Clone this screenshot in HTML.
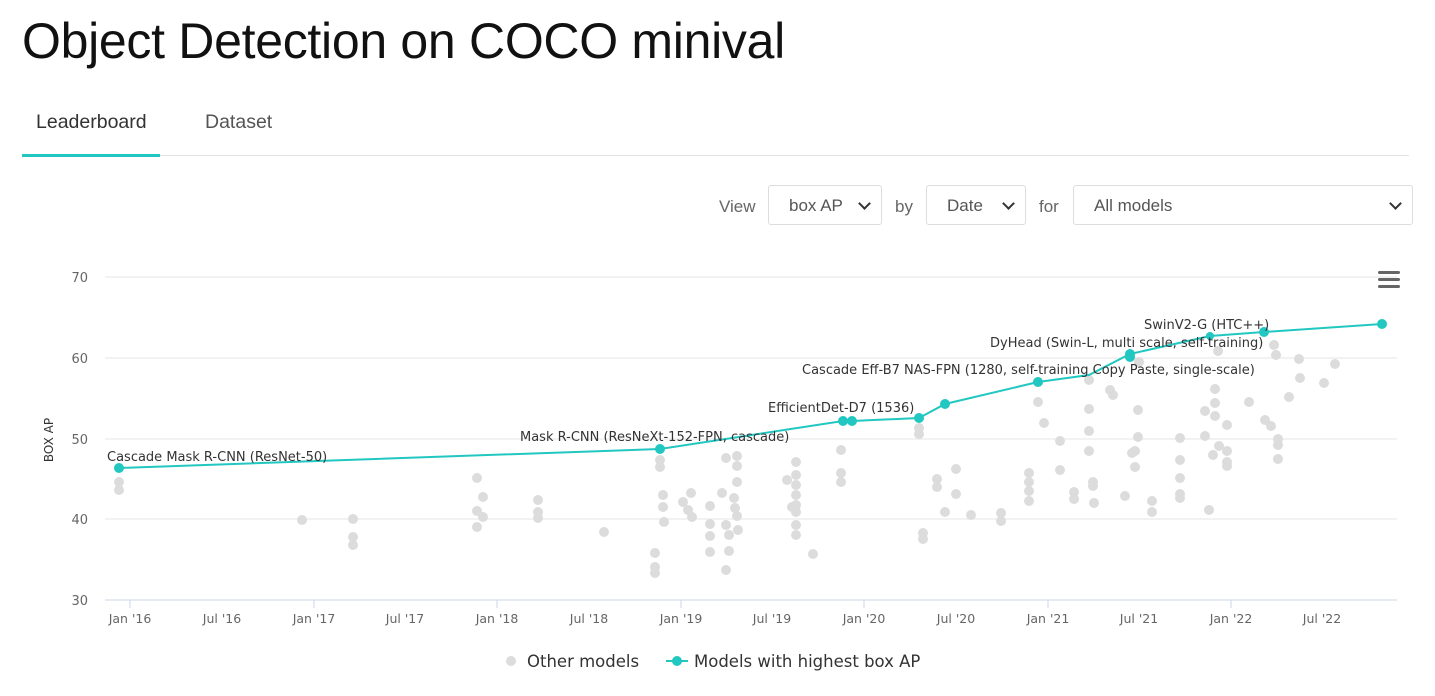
<!DOCTYPE html>
<html><head><meta charset="utf-8"><style>
body{margin:0;width:1435px;height:696px;background:#fff;font-family:"Liberation Sans",sans-serif;overflow:hidden;position:relative}
h1{position:absolute;left:22px;top:12px;margin:0;font-weight:400;font-size:50px;color:#111;letter-spacing:-0.3px}
.tab{position:absolute;top:111px;font-size:19.5px;color:#333}
.sel{position:absolute;top:185px;height:40px;border:1px solid #ddd;border-radius:3px;box-sizing:border-box;font-size:17px;color:#555;padding:10px 0 0 20px}
.sel:after{content:"";position:absolute;right:12px;top:13px;width:7px;height:7px;border-right:2px solid #333;border-bottom:2px solid #333;transform:rotate(45deg)}
.lbl{position:absolute;top:197px;font-size:17px;color:#666}
</style></head><body>
<h1>Object Detection on COCO minival</h1>
<div class="tab" style="left:36px">Leaderboard</div>
<div class="tab" style="left:205px;color:#555">Dataset</div>
<div style="position:absolute;left:22px;top:155px;width:1387px;height:1px;background:#e3e3e3"></div>
<div style="position:absolute;left:22px;top:154px;width:138px;height:3px;background:#21c7c0"></div>
<div class="lbl" style="left:719px">View</div>
<div class="sel" style="left:768px;width:114px">box AP</div>
<div class="lbl" style="left:895px">by</div>
<div class="sel" style="left:926px;width:100px">Date</div>
<div class="lbl" style="left:1039px">for</div>
<div class="sel" style="left:1073px;width:340px">All models</div>
<svg width="1435" height="696" style="position:absolute;left:0;top:0" font-family="DejaVu Sans, sans-serif">
<g stroke="#e6e6e6" stroke-width="1">
<line x1="105" x2="1397" y1="277" y2="277"/><line x1="105" x2="1397" y1="358" y2="358"/><line x1="105" x2="1397" y1="439" y2="439"/><line x1="105" x2="1397" y1="519" y2="519"/>
</g>
<line x1="105" x2="1397" y1="600" y2="600" stroke="#ccd6eb"/>
<g fill="#666" font-size="13" text-anchor="end"><text x="88" y="282">70</text><text x="88" y="363">60</text><text x="88" y="444">50</text><text x="88" y="524">40</text><text x="88" y="605">30</text></g>
<text transform="translate(53,440) rotate(-90)" font-size="12" fill="#333" text-anchor="middle">BOX AP</text>
<g fill="#666" font-size="12.5" text-anchor="middle">
<text x="130" y="623">Jan '16</text><text x="222" y="623">Jul '16</text><text x="314" y="623">Jan '17</text><text x="405" y="623">Jul '17</text><text x="497" y="623">Jan '18</text><text x="589" y="623">Jul '18</text><text x="681" y="623">Jan '19</text><text x="772" y="623">Jul '19</text><text x="864" y="623">Jan '20</text><text x="956" y="623">Jul '20</text><text x="1048" y="623">Jan '21</text><text x="1139" y="623">Jul '21</text><text x="1231" y="623">Jan '22</text><text x="1322" y="623">Jul '22</text>
</g>
<g stroke="#ccd6eb"><line x1="130" x2="130" y1="600" y2="608"/><line x1="314" x2="314" y1="600" y2="608"/><line x1="497" x2="497" y1="600" y2="608"/><line x1="681" x2="681" y1="600" y2="608"/><line x1="864" x2="864" y1="600" y2="608"/><line x1="1048" x2="1048" y1="600" y2="608"/><line x1="1231" x2="1231" y1="600" y2="608"/></g>
<g fill="#666"><rect x="1378" y="271" width="22" height="3" rx="1.5"/><rect x="1378" y="278" width="22" height="3" rx="1.5"/><rect x="1378" y="285" width="22" height="3" rx="1.5"/></g>
<g fill="#dcdcdc">
<circle cx="119" cy="482" r="5"/><circle cx="119" cy="490" r="5"/><circle cx="302" cy="520" r="5"/><circle cx="353" cy="519" r="5"/><circle cx="353" cy="537" r="5"/><circle cx="353" cy="545" r="5"/>
<circle cx="477" cy="478" r="5"/><circle cx="483" cy="497" r="5"/><circle cx="477" cy="511" r="5"/><circle cx="483" cy="517" r="5"/><circle cx="477" cy="527" r="5"/><circle cx="538" cy="500" r="5"/><circle cx="538" cy="512" r="5"/><circle cx="538" cy="518" r="5"/><circle cx="604" cy="532" r="5"/>
<circle cx="660" cy="460" r="5"/><circle cx="660" cy="467" r="5"/><circle cx="663" cy="495" r="5"/><circle cx="663" cy="507" r="5"/><circle cx="664" cy="522" r="5"/><circle cx="655" cy="553" r="5"/><circle cx="655" cy="567" r="5"/><circle cx="655" cy="573" r="5"/>
<circle cx="683" cy="502" r="5"/><circle cx="688" cy="510" r="5"/><circle cx="691" cy="493" r="5"/><circle cx="692" cy="517" r="5"/><circle cx="710" cy="506" r="5"/><circle cx="710" cy="524" r="5"/><circle cx="710" cy="536" r="5"/><circle cx="710" cy="552" r="5"/><circle cx="722" cy="493" r="5"/>
<circle cx="726" cy="458" r="5"/><circle cx="737" cy="456" r="5"/><circle cx="737" cy="466" r="5"/><circle cx="737" cy="482" r="5"/><circle cx="734" cy="498" r="5"/><circle cx="735" cy="508" r="5"/><circle cx="737" cy="516" r="5"/><circle cx="726" cy="525" r="5"/><circle cx="729" cy="535" r="5"/><circle cx="738" cy="530" r="5"/><circle cx="729" cy="551" r="5"/><circle cx="726" cy="570" r="5"/>
<circle cx="787" cy="480" r="5"/><circle cx="796" cy="462" r="5"/><circle cx="796" cy="475" r="5"/><circle cx="796" cy="485" r="5"/><circle cx="796" cy="495" r="5"/><circle cx="796" cy="505" r="5"/><circle cx="792" cy="507" r="5"/><circle cx="796" cy="512" r="5"/><circle cx="796" cy="525" r="5"/><circle cx="796" cy="535" r="5"/><circle cx="813" cy="554" r="5"/>
<circle cx="841" cy="450" r="5"/><circle cx="841" cy="473" r="5"/><circle cx="841" cy="482" r="5"/>
<circle cx="919" cy="428" r="5"/><circle cx="919" cy="434" r="5"/><circle cx="923" cy="533" r="5"/><circle cx="923" cy="539" r="5"/><circle cx="937" cy="479" r="5"/><circle cx="937" cy="487" r="5"/><circle cx="945" cy="512" r="5"/><circle cx="956" cy="469" r="5"/><circle cx="956" cy="494" r="5"/><circle cx="971" cy="515" r="5"/><circle cx="1001" cy="513" r="5"/><circle cx="1001" cy="521" r="5"/>
<circle cx="1029" cy="473" r="5"/><circle cx="1029" cy="482" r="5"/><circle cx="1029" cy="491" r="5"/><circle cx="1029" cy="501" r="5"/><circle cx="1038" cy="402" r="5"/><circle cx="1044" cy="423" r="5"/><circle cx="1060" cy="441" r="5"/><circle cx="1060" cy="470" r="5"/><circle cx="1074" cy="492" r="5"/><circle cx="1074" cy="499" r="5"/>
<circle cx="1089" cy="380" r="5"/><circle cx="1089" cy="409" r="5"/><circle cx="1089" cy="431" r="5"/><circle cx="1089" cy="451" r="5"/><circle cx="1093" cy="482" r="5"/><circle cx="1093" cy="486" r="5"/><circle cx="1094" cy="503" r="5"/><circle cx="1110" cy="390" r="5"/><circle cx="1113" cy="395" r="5"/><circle cx="1125" cy="496" r="5"/>
<circle cx="1138" cy="410" r="5"/><circle cx="1138" cy="437" r="5"/><circle cx="1135" cy="451" r="5"/><circle cx="1135" cy="467" r="5"/><circle cx="1132" cy="453" r="5"/><circle cx="1139" cy="362" r="5"/><circle cx="1152" cy="501" r="5"/><circle cx="1152" cy="512" r="5"/>
<circle cx="1180" cy="438" r="5"/><circle cx="1180" cy="460" r="5"/><circle cx="1180" cy="478" r="5"/><circle cx="1180" cy="494" r="5"/><circle cx="1180" cy="498" r="5"/><circle cx="1205" cy="411" r="5"/><circle cx="1205" cy="436" r="5"/><circle cx="1209" cy="510" r="5"/><circle cx="1215" cy="389" r="5"/><circle cx="1215" cy="403" r="5"/><circle cx="1215" cy="416" r="5"/><circle cx="1218" cy="351" r="5"/><circle cx="1213" cy="455" r="5"/><circle cx="1219" cy="446" r="5"/><circle cx="1227" cy="425" r="5"/><circle cx="1227" cy="451" r="5"/><circle cx="1227" cy="462" r="5"/><circle cx="1227" cy="466" r="5"/>
<circle cx="1249" cy="402" r="5"/><circle cx="1265" cy="420" r="5"/><circle cx="1271" cy="426" r="5"/><circle cx="1274" cy="345" r="5"/><circle cx="1276" cy="355" r="5"/><circle cx="1278" cy="439" r="5"/><circle cx="1278" cy="445" r="5"/><circle cx="1278" cy="459" r="5"/><circle cx="1289" cy="397" r="5"/><circle cx="1299" cy="359" r="5"/><circle cx="1300" cy="378" r="5"/><circle cx="1324" cy="383" r="5"/><circle cx="1335" cy="364" r="5"/>
</g>
<polyline fill="none" stroke="#21c7c0" stroke-width="2" points="119,468 660,449 843,421 852,421 919,418 945,404 1038,382 1089,375 1130,354 1210,336 1264,332 1382,324"/>
<g fill="#21c7c0"><circle cx="119" cy="468" r="5"/><circle cx="660" cy="449" r="5"/><circle cx="843" cy="421" r="5"/><circle cx="852" cy="421" r="5"/><circle cx="919" cy="418" r="5"/><circle cx="945" cy="404" r="5"/><circle cx="1038" cy="382" r="5"/><circle cx="1130" cy="354" r="5"/><circle cx="1130" cy="357" r="5"/><circle cx="1210" cy="336" r="4"/><circle cx="1264" cy="332" r="5"/><circle cx="1382" cy="324" r="5"/></g>
<g fill="#333" font-size="13">
<text x="107" y="461">Cascade Mask R-CNN (ResNet-50)</text>
<text x="520" y="441">Mask R-CNN (ResNeXt-152-FPN, cascade)</text>
<text x="768" y="412">EfficientDet-D7 (1536)</text>
<text x="802" y="374">Cascade Eff-B7 NAS-FPN (1280, self-training Copy Paste, single-scale)</text>
<text x="990" y="347">DyHead (Swin-L, multi scale, self-training)</text>
<text x="1144" y="329">SwinV2-G (HTC++)</text>
</g>
<circle cx="511" cy="661" r="5" fill="#dcdcdc"/><text x="527" y="667" font-size="16.5" fill="#333">Other models</text>
<line x1="666" x2="688" y1="661" y2="661" stroke="#21c7c0" stroke-width="2"/><circle cx="677" cy="661" r="5" fill="#21c7c0"/><text x="694" y="667" font-size="16.5" fill="#333">Models with highest box AP</text>
</svg>
</body></html>
